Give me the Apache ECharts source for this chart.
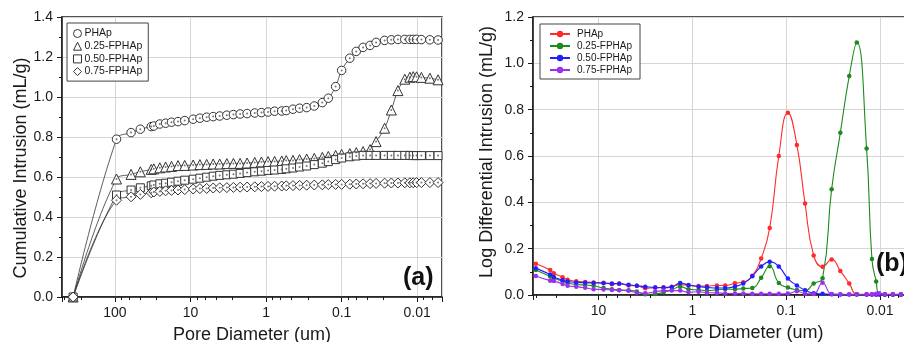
<!DOCTYPE html>
<html>
<head>
<meta charset="utf-8">
<script src="https://cdn.jsdelivr.net/npm/echarts@6/dist/echarts.min.js"></script>
<style>
  html, body { margin: 0; padding: 0; background: #fff; }
  #chart { width: 904px; height: 342px; }
</style>
</head>
<body>
<div id="chart"></div>
<script>
// ---- panel (a): cumulative intrusion (mL/g) vs pore diameter (um)
const diamA = [356, 95, 61, 46, 33, 30.5, 25.4, 21.3, 17.8, 14.6, 11.9, 9.2, 7.5, 6.1, 5.0, 4.1,
  3.3, 2.7, 2.2, 1.78, 1.41, 1.15, 0.94, 0.77, 0.62, 0.54, 0.44, 0.36, 0.29, 0.23, 0.18, 0.15,
  0.12, 0.10, 0.078, 0.064, 0.052, 0.042, 0.035, 0.027, 0.022, 0.018, 0.0146, 0.0125, 0.0113,
  0.0102, 0.0088, 0.0068, 0.0053];
const cumPHAp = [0, 0.789, 0.822, 0.839, 0.852, 0.855, 0.865, 0.869, 0.874, 0.877, 0.882, 0.889,
  0.894, 0.899, 0.902, 0.905, 0.909, 0.912, 0.915, 0.917, 0.920, 0.922, 0.925, 0.929, 0.930,
  0.932, 0.939, 0.944, 0.947, 0.955, 0.972, 0.994, 1.052, 1.133, 1.194, 1.228, 1.248, 1.258,
  1.273, 1.283, 1.286, 1.288, 1.288, 1.288, 1.288, 1.288, 1.287, 1.286, 1.285];
const cum025 = [0, 0.590, 0.613, 0.626, 0.638, 0.641, 0.646, 0.650, 0.653, 0.657, 0.658, 0.660,
  0.662, 0.663, 0.665, 0.665, 0.667, 0.668, 0.668, 0.670, 0.673, 0.675, 0.677, 0.678, 0.680,
  0.682, 0.683, 0.687, 0.690, 0.693, 0.698, 0.703, 0.708, 0.713, 0.717, 0.722, 0.727, 0.737,
  0.777, 0.844, 0.935, 1.032, 1.089, 1.099, 1.102, 1.101, 1.098, 1.094, 1.086];
const cum050 = [0, 0.510, 0.535, 0.546, 0.556, 0.560, 0.566, 0.569, 0.574, 0.579, 0.584, 0.589,
  0.594, 0.599, 0.604, 0.608, 0.611, 0.614, 0.618, 0.622, 0.626, 0.629, 0.633, 0.635, 0.638,
  0.641, 0.645, 0.650, 0.655, 0.662, 0.669, 0.677, 0.687, 0.695, 0.701, 0.705, 0.708, 0.708,
  0.708, 0.708, 0.708, 0.708, 0.708, 0.708, 0.707, 0.707, 0.707, 0.707, 0.707];
const cum075 = [0, 0.484, 0.501, 0.513, 0.521, 0.525, 0.528, 0.531, 0.533, 0.535, 0.537, 0.540,
  0.542, 0.543, 0.545, 0.546, 0.547, 0.548, 0.549, 0.550, 0.551, 0.552, 0.553, 0.554, 0.555,
  0.556, 0.557, 0.558, 0.559, 0.560, 0.561, 0.562, 0.563, 0.563, 0.564, 0.565, 0.566, 0.567,
  0.568, 0.569, 0.570, 0.570, 0.571, 0.571, 0.571, 0.572, 0.572, 0.572, 0.572];

// ---- panel (b): log differential intrusion (mL/g)
const diamB = [46.6, 32.8, 30.0, 24.2, 21.4, 17.3, 13.9, 11.3, 8.85, 7.21, 6.03, 4.79, 3.91,
  3.18, 2.49, 2.03, 1.66, 1.35, 1.10, 0.86, 0.70, 0.548, 0.447, 0.352, 0.287, 0.230, 0.185,
  0.150, 0.120, 0.096, 0.077, 0.063, 0.051, 0.041, 0.0328, 0.0265, 0.0213, 0.0177, 0.0139,
  0.0122, 0.0110, 0.0102, 0.0089, 0.0073, 0.0060];
const difPHAp = [0.135, 0.108, 0.094, 0.077, 0.066, 0.059, 0.056, 0.054, 0.053, 0.046, 0.050,
  0.041, 0.040, 0.029, 0.032, 0.033, 0.036, 0.045, 0.041, 0.039, 0.039, 0.041, 0.041, 0.051,
  0.055, 0.083, 0.158, 0.289, 0.600, 0.787, 0.648, 0.395, 0.171, 0.122, 0.153, 0.104, 0.050,
  0.003, 0.002, 0.002, 0.002, 0.003, 0.002, 0.002, 0.002];
const dif025 = [0.108, 0.080, 0.072, 0.060, 0.052, 0.045, 0.043, 0.040, 0.030, 0.025, 0.022,
  0.020, 0.015, 0.003, 0.004, 0.012, 0.022, 0.036, 0.025, 0.022, 0.019, 0.022, 0.025, 0.025,
  0.028, 0.030, 0.074, 0.124, 0.052, 0.032, 0.022, 0.018, 0.050, 0.072, 0.457, 0.700, 0.945,
  1.090, 0.632, 0.155, 0.058, 0.004, 0.002, 0.002, 0.002];
const dif050 = [0.116, 0.088, 0.078, 0.064, 0.058, 0.054, 0.053, 0.052, 0.051, 0.050, 0.049,
  0.044, 0.040, 0.036, 0.032, 0.031, 0.034, 0.052, 0.043, 0.036, 0.033, 0.030, 0.030, 0.037,
  0.050, 0.081, 0.123, 0.143, 0.123, 0.071, 0.041, 0.021, 0.008, 0.005, 0.003, 0.002, 0.002,
  0.002, 0.002, 0.002, 0.002, 0.002, 0.002, 0.002, 0.002];
const dif075 = [0.082, 0.062, 0.060, 0.048, 0.040, 0.036, 0.031, 0.025, 0.024, 0.022, 0.020,
  0.018, 0.010, 0.008, 0.014, 0.019, 0.019, 0.019, 0.012, 0.014, 0.010, 0.009, 0.007, 0.006,
  0.006, 0.005, 0.005, 0.005, 0.005, 0.006, 0.016, 0.006, 0.004, 0.053, 0.004, 0.003, 0.003,
  0.003, 0.003, 0.003, 0.005, 0.008, 0.003, 0.003, 0.003];

const names = ['PHAp', '0.25-FPHAp', '0.50-FPHAp', '0.75-FPHAp'];
const cumSeries = [cumPHAp, cum025, cum050, cum075];
const difSeries = [difPHAp, dif025, dif050, dif075];
const shapes = ['circle', 'triangle', 'rect', 'diamond'];
const shapeSizes = [8.5, 10, 8, 10];
const colorsB = ['#ff2a2a', '#1d8a1d', '#1f1fff', '#9b30f0'];

const font = 'Liberation Sans, Arial, sans-serif';
const ink = '#1a1a1a';

const decadeLabel = v => {
  const l = Math.log10(v);
  return Math.abs(l - Math.round(l)) < 1e-6 ? String(+v.toPrecision(3)) : '';
};

function xAxisLog(gridIndex, min, max) {
  return {
    type: 'log', logBase: 10, gridIndex, min, max, inverse: true,
    name: 'Pore Diameter (um)', nameLocation: 'middle', nameGap: 29,
    nameTextStyle: { fontSize: 18, color: ink, fontFamily: font },
    axisLine: { lineStyle: { color: ink, width: 1.5 } },
    axisTick: { length: 5, lineStyle: { color: ink } },
    minorTick: { show: true, length: 3, lineStyle: { color: ink } },
    splitLine: { show: true, lineStyle: { color: '#d6d6d6', width: 1 } },
    axisLabel: { fontSize: 14, color: ink, fontFamily: font, margin: 9,
      showMinLabel: false, showMaxLabel: false, formatter: decadeLabel }
  };
}

// pad shifts the rotated axis title along the axis: [0, down, 0, up]
function yAxisVal(gridIndex, max, name, gap, pad) {
  return {
    type: 'value', gridIndex, min: 0, max, interval: 0.2,
    name, nameLocation: 'middle', nameGap: gap,
    nameTextStyle: { fontSize: 18, color: ink, fontFamily: font, padding: pad },
    axisLine: { show: true, lineStyle: { color: ink, width: 1.5 } },
    axisTick: { show: true, length: 5, lineStyle: { color: ink } },
    minorTick: { show: true, splitNumber: 2, length: 3, lineStyle: { color: ink } },
    splitLine: { show: true, lineStyle: { color: '#d6d6d6', width: 1 } },
    axisLabel: { fontSize: 14, color: ink, fontFamily: font, margin: 9,
      formatter: v => v.toFixed(1) }
  };
}

const seriesA = names.map((n, k) => ({
  name: n, type: 'line', xAxisIndex: 0, yAxisIndex: 0,
  data: diamA.map((d, i) => [d, cumSeries[k][i]]),
  smooth: 0.4,
  symbol: shapes[k], symbolSize: shapeSizes[k], showAllSymbol: true,
  lineStyle: { color: '#333', width: 0.8 },
  itemStyle: { color: '#fff', borderColor: '#333', borderWidth: 1 },
  z: 3
}));
const dotsA = names.map((n, k) => ({
  name: 'dot-' + n, type: 'scatter', xAxisIndex: 0, yAxisIndex: 0, silent: true,
  data: diamA.slice(1).map((d, i) => [d, cumSeries[k][i + 1]]),
  symbol: 'circle', symbolSize: 2,
  itemStyle: { color: '#555' }, z: 4
}));
const seriesB = names.map((n, k) => ({
  name: n + ' (b)', type: 'line', xAxisIndex: 1, yAxisIndex: 1,
  data: diamB.map((d, i) => [d, difSeries[k][i]]),
  smooth: 0.5,
  symbol: 'circle', symbolSize: 4.5, showAllSymbol: true,
  lineStyle: { color: colorsB[k], width: 1.1 },
  itemStyle: { color: colorsB[k] },
  z: 3
}));

const chart = echarts.init(document.getElementById('chart'), null, { renderer: 'canvas' });
chart.setOption({
  animation: false,
  backgroundColor: '#fff',
  textStyle: { fontFamily: font },
  grid: [
    { left: 62, top: 17, width: 380, height: 280, show: true, borderColor: ink, borderWidth: 1.5,
      outerBoundsMode: 'none' },
    { left: 533, top: 17, width: 423, height: 278, show: true, borderColor: ink, borderWidth: 1.5,
      outerBoundsMode: 'none' }
  ],
  xAxis: [xAxisLog(0, 0.0047, 500), xAxisLog(1, 0.00155, 50)],
  yAxis: [
    yAxisVal(0, 1.4, 'Cumulative Intrusion (mL/g)', 32, [0, 22, 0, 0]),
    yAxisVal(1, 1.2, 'Log Differential Intrusion (mL/g)', 37, [0, 0, 0, 8])
  ],
  legend: [
    {
      data: names.map((n, k) => ({ name: n, icon: shapes[k] })),
      orient: 'vertical', left: 67, top: 23,
      itemWidth: 8, itemHeight: 8, itemGap: 1.7,
      padding: [5, 6, 4, 6],
      backgroundColor: '#fff', borderColor: '#444', borderWidth: 1,
      itemStyle: { color: '#fff', borderColor: '#333', borderWidth: 1 },
      textStyle: { fontSize: 10.5, color: ink, fontFamily: font, padding: [0, 0, 0, -2] },
      selectedMode: false
    },
    {
      data: names.map(n => n + ' (b)'),
      formatter: n => n.replace(' (b)', ''),
      orient: 'vertical', left: 540, top: 24,
      itemWidth: 20, itemHeight: 8, itemGap: 2,
      padding: [5, 8, 4, 9],
      backgroundColor: '#fff', borderColor: '#444', borderWidth: 1,
      textStyle: { fontSize: 10, color: ink, fontFamily: font, padding: [0, 0, 0, 2] },
      selectedMode: false
    }
  ],
  graphic: [
    { type: 'text', left: 403, top: 266, z: 10,
      style: { text: '(a)', fontSize: 25, fontWeight: 'bold', fontFamily: font, fill: '#111' } },
    { type: 'text', left: 876, top: 252, z: 10,
      style: { text: '(b)', fontSize: 25, fontWeight: 'bold', fontFamily: font, fill: '#111' } }
  ],
  series: [...seriesA, ...dotsA, ...seriesB]
});
</script>
</body>
</html>
